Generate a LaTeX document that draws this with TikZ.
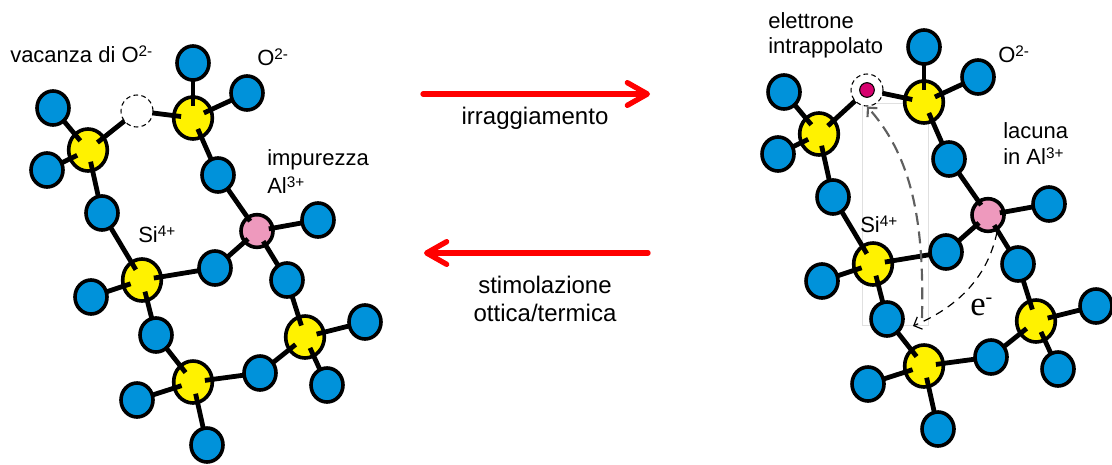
\documentclass[tikz,border=0pt]{standalone}
\usepackage{fontspec}
\setmainfont{Liberation Sans}
\newfontfamily\elfont{Liberation Serif}
\usetikzlibrary{shapes.geometric,arrows.meta}

\pgfdeclarelayer{backdrop}
\pgfdeclarelayer{cation}
\pgfdeclarelayer{bondlayer}
\pgfsetlayers{backdrop,cation,bondlayer,main}

\definecolor{oxblue}{RGB}{0,146,218}
\definecolor{siyellow}{RGB}{255,242,0}
\definecolor{alpink}{RGB}{238,153,189}
\definecolor{trapmag}{RGB}{214,0,110}
\definecolor{arrowred}{RGB}{255,0,0}
\definecolor{pathgrey}{RGB}{95,95,95}

% ionic charge written as a raised small label
\newcommand\chg[1]{\raisebox{4.2pt}{\fontsize{11.5}{11.5}\selectfont #1}}

\tikzset{
  atom/.style={ellipse, draw=black, line width=2.7pt, inner sep=0pt, outer sep=0pt},
  oxy/.style={atom, fill=oxblue, minimum width=24pt, minimum height=25.5pt},
  si/.style={atom, fill=siyellow, minimum width=29pt, minimum height=31.5pt},
  al/.style={atom, fill=alpink, minimum width=24pt, minimum height=24.5pt},
  site/.style={circle, draw=black, fill=white, line width=0.8pt,
    dash pattern=on 3.5pt off 2.5pt, minimum size=24pt, inner sep=0pt},
  bond/.style={line width=3.6pt, shorten >=9pt},
  lbl/.style={font=\fontsize{16.5}{19}\selectfont, inner sep=0pt, anchor=base west},
  midlbl/.style={font=\fontsize{18}{21}\selectfont, inner sep=0pt, anchor=base},
  redarrow/.style={draw=arrowred, line width=4pt, line cap=round,
    -{Straight Barb[length=15pt,width=17pt,round]}},
  hop/.style={draw=pathgrey, line width=1.6pt, dash pattern=on 9pt off 5pt,
    -{Straight Barb[length=5pt,width=10pt]}},
  efree/.style={draw=black, line width=0.9pt, dash pattern=on 6pt off 4.5pt,
    -{Straight Barb[length=5pt,width=10pt]}},
}

% one silicate ring fragment: #1 name prefix, #2 position of the O site
\newcommand\silattice[2]{%
  \begin{pgfonlayer}{cation}
    \node[si] (#1SiA) at (88,150) {};
    \node[si] (#1SiB) at (193,118) {};
    \node[al] (#1Al)  at (257,231) {};
    \node[si] (#1SiC) at (142,280) {};
    \node[si] (#1SiD) at (305,337) {};
    \node[si] (#1SiE) at (193,382) {};
  \end{pgfonlayer}
  \node[site] (#1V) at (#2) {};
  \node[oxy] (#1O1)  at (53,108) {};
  \node[oxy] (#1O2)  at (47,170) {};
  \node[oxy] (#1Oa)  at (102,213) {};
  \node[oxy] (#1Ot)  at (193,63) {};
  \node[oxy] (#1Or)  at (247,93) {};
  \node[oxy] (#1Ob)  at (218,175) {};
  \node[oxy] (#1Oal) at (318,220) {};
  \node[oxy] (#1Oca) at (215,268) {};
  \node[oxy] (#1Oad) at (287,280) {};
  \node[oxy] (#1Ocl) at (91,297) {};
  \node[oxy] (#1Oce) at (156,335) {};
  \node[oxy] (#1Oel) at (137,400) {};
  \node[oxy] (#1Oeb) at (207,445) {};
  \node[oxy] (#1Oed) at (260,373) {};
  \node[oxy] (#1Odr) at (365,322) {};
  \node[oxy] (#1Odb) at (327,385) {};
  \begin{pgfonlayer}{bondlayer}
    \foreach \o/\c in {O1/SiA, O2/SiA, Oa/SiA, V/SiA, V/SiB, Ot/SiB, Or/SiB,
        Ob/SiB, Ob/Al, Oal/Al, Oca/Al, Oad/Al, Oa/SiC, Ocl/SiC, Oca/SiC,
        Oce/SiC, Oce/SiE, Oel/SiE, Oeb/SiE, Oed/SiE, Oad/SiD, Odr/SiD,
        Odb/SiD, Oed/SiD}
      \draw[bond] (#1\o.center) -- (#1\c.center);
  \end{pgfonlayer}
}

\begin{document}
\begin{tikzpicture}[x=0.75pt, y=-0.75pt]
\useasboundingbox (0,0) rectangle (1112,464);

% ---- left: lattice with an oxygen vacancy ----
\silattice{L}{137,111}
\node[lbl] (Lvac) at (10,62) {vacanza di O\chg{2-}};
\node[lbl] (LOx)  at (257,65) {O\chg{2-}};
\node[lbl] (Limp) at (267,165) {impurezza};
\node[lbl] (LAl)  at (267,193) {Al\chg{3+}};
\node[lbl] (LSi)  at (138,242) {Si\chg{4+}};

% ---- right: lattice with a trapped electron ----
\begin{pgfonlayer}{backdrop}
  \draw[black!12, line width=0.6pt] (862,103) rectangle (928,325);
\end{pgfonlayer}
\begin{scope}[shift={(731,-16)}]
  \silattice{R}{136,106}
\end{scope}
\node[circle, fill=trapmag, draw=black, line width=0.8pt, minimum size=11pt,
  inner sep=0pt] (Rdot) at (RV) {};
\node[lbl] (Rel1) at (768,28) {elettrone};
\node[lbl] (Rel2) at (768,53) {intrappolato};
\node[lbl] (ROx)  at (998,62) {O\chg{2-}};
\node[lbl] (Rlac) at (1003,138) {lacuna};
\node[lbl] (RAl)  at (1003,164) {in Al\chg{3+}};
\node[lbl] (RSi)  at (860,232) {Si\chg{4+}};

% electron paths
\coordinate (gStart) at (922,318);
\draw[hop] (gStart) .. controls (924,230) and (915,160) .. (RV.south);
\coordinate (eStart) at (997,232);
\coordinate (eEnd) at (913,326);
\draw[efree] (eStart) .. controls (987,280) and (955,308) .. (eEnd);
\node[font=\elfont\fontsize{26}{26}\selectfont, inner sep=0pt, anchor=base west]
  (elab) at (970,315) {e\raisebox{9pt}{\fontsize{15}{15}\selectfont -}};

% ---- process arrows ----
\coordinate (irrS) at (423,94);
\coordinate (irrE) at (650,94);
\draw[redarrow] (irrS) -- (irrE);
\node[midlbl] (irr) at (535,124) {irraggiamento};
\coordinate (stS) at (648,253);
\coordinate (stE) at (424,253);
\draw[redarrow] (stS) -- (stE);
\node[midlbl] (st1) at (545,293) {stimolazione};
\node[midlbl] (st2) at (545,321) {ottica/termica};
\end{tikzpicture}
\end{document}
